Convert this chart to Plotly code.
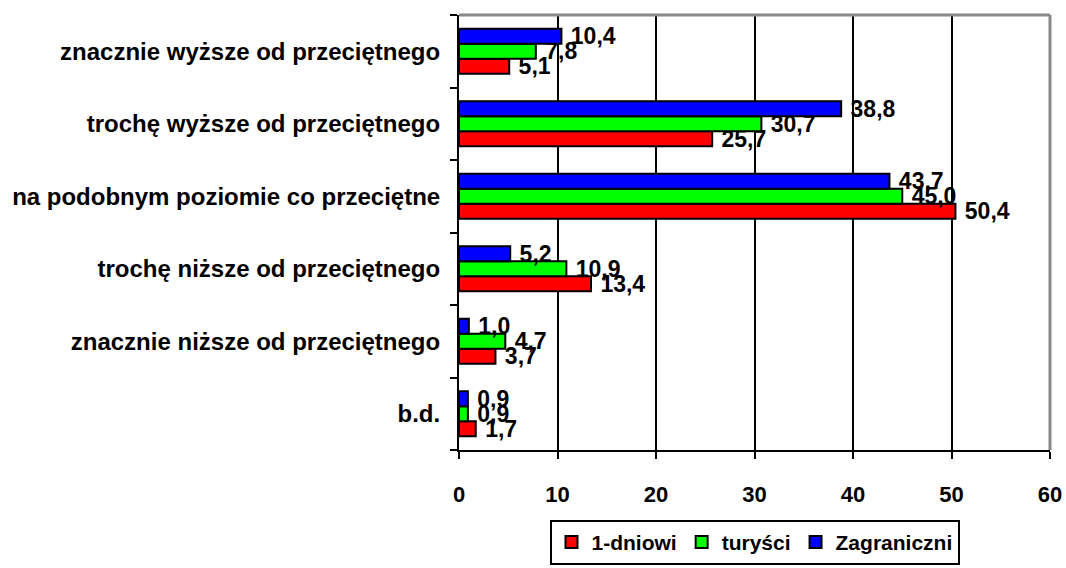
import plotly.graph_objects as go

# categories listed top to bottom as in the chart
categories = [
    "znacznie wyższe od przeciętnego",
    "trochę wyższe od przeciętnego",
    "na podobnym poziomie co przeciętne",
    "trochę niższe od przeciętnego",
    "znacznie niższe od przeciętnego",
    "b.d.",
]
jednodniowi = [5.1, 25.7, 50.4, 13.4, 3.7, 1.7]
turysci = [7.8, 30.7, 45.0, 10.9, 4.7, 0.9]
zagraniczni = [10.4, 38.8, 43.7, 5.2, 1.0, 0.9]

series = [
    ("1-dniowi", jednodniowi, "#FF0000"),
    ("turyści", turysci, "#00FF00"),
    ("Zagraniczni", zagraniczni, "#0000FF"),
]

FONT = "Arial, Liberation Sans, sans-serif"


def fmt(v):
    # Polish decimal comma, small gap after the bar end
    return " " + f"{v:.1f}".replace(".", ",")


fig = go.Figure()
for name, vals, color in series:
    fig.add_trace(go.Bar(
        y=categories[::-1],
        x=vals[::-1],
        name=name,
        orientation="h",
        marker=dict(color=color, line=dict(color="black", width=2)),
        text=[fmt(v) for v in vals[::-1]],
        textposition="outside",
        constraintext="none",
        textfont=dict(family=FONT, size=23, color="black", weight="bold"),
        cliponaxis=False,
    ))

fig.update_layout(
    width=1066,
    height=568,
    barmode="group",
    bargap=0.38,
    bargroupgap=0,
    plot_bgcolor="white",
    paper_bgcolor="white",
    font=dict(family=FONT, size=23, color="black", weight="bold"),
    margin=dict(l=459, r=16, t=15, b=118, autoexpand=False),
    xaxis=dict(
        range=[0, 60],
        dtick=10,
        showgrid=True,
        gridcolor="black",
        gridwidth=2,
        showline=True,
        linecolor="black",
        linewidth=2,
        ticks="outside",
        ticklen=7,
        tickwidth=2,
        tickcolor="black",
        ticklabelstandoff=17,
        zeroline=False,
        tickfont=dict(family=FONT, size=22, weight="bold"),
    ),
    yaxis=dict(
        showgrid=False,
        showline=True,
        linecolor="black",
        linewidth=2,
        ticks="outside",
        tickson="boundaries",
        ticklen=7,
        tickwidth=2,
        tickcolor="black",
        ticklabelstandoff=12,
        tickfont=dict(family=FONT, size=24, weight="bold"),
    ),
    legend=dict(
        orientation="h",
        x=0.5,
        xanchor="center",
        y=-0.264,
        yanchor="bottom",
        bordercolor="black",
        borderwidth=2,
        font=dict(family=FONT, size=21, weight="bold"),
        itemwidth=30,
        traceorder="normal",
    ),
    showlegend=True,
    shapes=[
        dict(type="line", xref="x domain", yref="y domain", x0=0, x1=1, y0=1, y1=1,
             line=dict(color="#888888", width=3), layer="above"),
        dict(type="line", xref="x domain", yref="y domain", x0=1, x1=1, y0=0, y1=1,
             line=dict(color="#888888", width=3), layer="above"),
    ],
)

fig.write_html(
    "out.html",
    config={"displayModeBar": False},
    post_script="document.body.style.margin='0';",
)
